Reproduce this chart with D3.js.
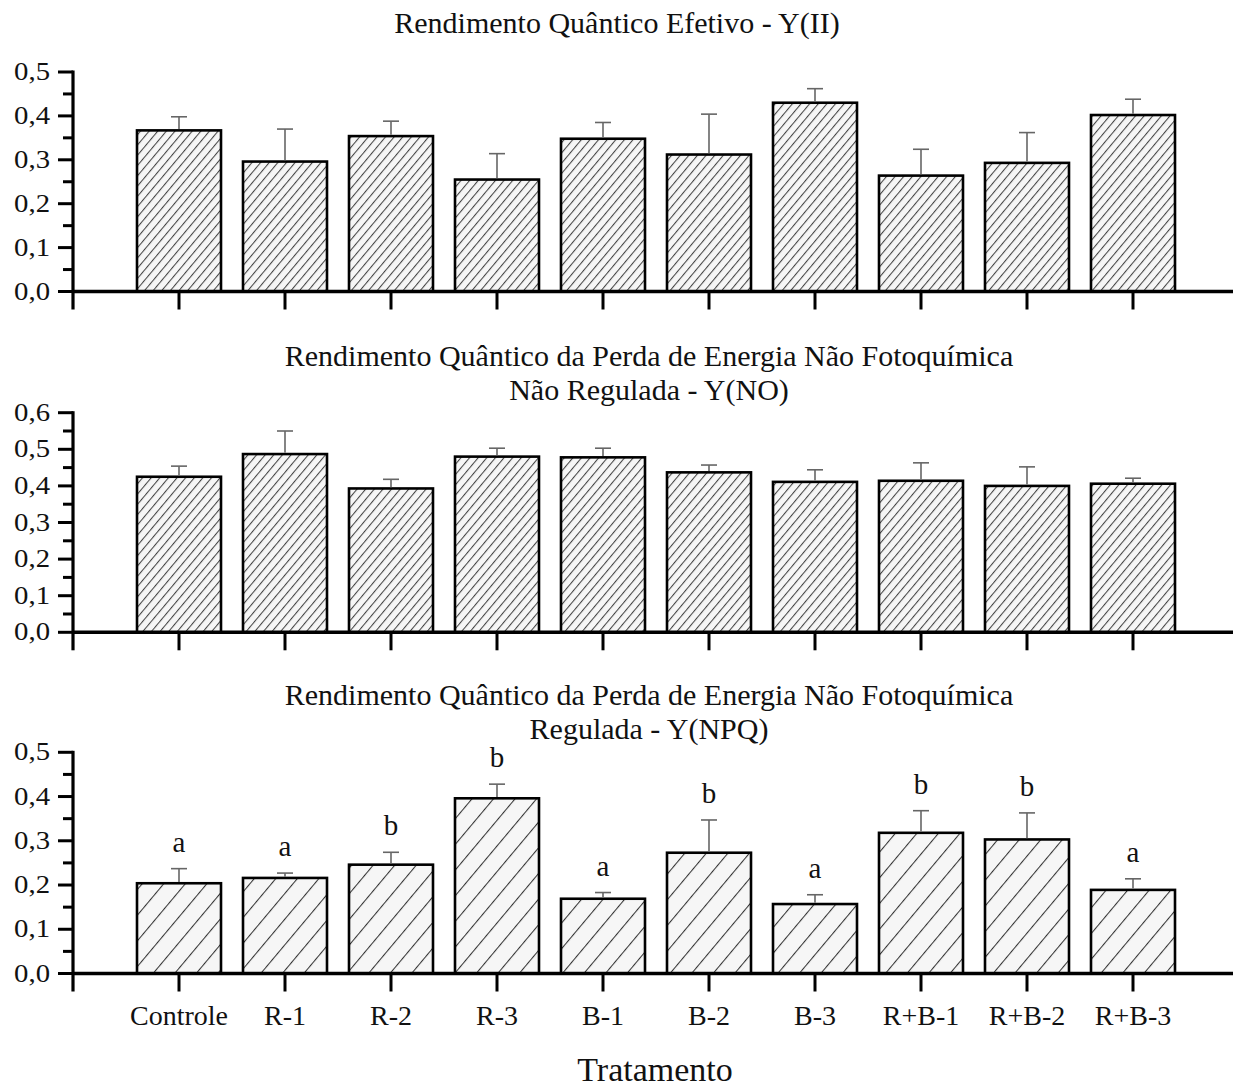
<!DOCTYPE html>
<html>
<head>
<meta charset="utf-8">
<script src="https://cdn.jsdelivr.net/npm/d3@7"></script>
<style>
  body { margin: 0; background: #fff; }
  text { font-family: "Liberation Serif", "Times New Roman", serif; fill: #111; }
</style>
</head>
<body>
<div id="chart"></div>
<script>
var width = 1233;
var height = 1091;

// treatments on the x axis
var categories = ["Controle", "R-1", "R-2", "R-3", "B-1", "B-2", "B-3", "R+B-1", "R+B-2", "R+B-3"];

// Y(II) means and error (upper bar only)
var yiiMean = [0.367, 0.296, 0.354, 0.255, 0.348, 0.312, 0.430, 0.264, 0.293, 0.402];
var yiiErr  = [0.031, 0.074, 0.034, 0.059, 0.037, 0.092, 0.032, 0.060, 0.069, 0.036];

// Y(NO)
var ynoMean = [0.425, 0.487, 0.393, 0.480, 0.478, 0.437, 0.411, 0.414, 0.400, 0.406];
var ynoErr  = [0.029, 0.063, 0.025, 0.023, 0.025, 0.020, 0.033, 0.049, 0.052, 0.015];

// Y(NPQ) + letters of the mean comparison test
var ynpqMean = [0.204, 0.216, 0.246, 0.396, 0.169, 0.273, 0.157, 0.318, 0.303, 0.189];
var ynpqErr  = [0.033, 0.011, 0.028, 0.032, 0.014, 0.074, 0.021, 0.050, 0.060, 0.025];
var ynpqLetters = ["a", "a", "b", "b", "a", "b", "a", "b", "b", "a"];

var yiiTicks = [0, 0.1, 0.2, 0.3, 0.4, 0.5];
var ynoTicks = [0, 0.1, 0.2, 0.3, 0.4, 0.5, 0.6];
var ynpqTicks = [0, 0.1, 0.2, 0.3, 0.4, 0.5];

var titles = [
  ["Rendimento Quântico Efetivo - Y(II)"],
  ["Rendimento Quântico da Perda de Energia Não Fotoquímica", "Não Regulada - Y(NO)"],
  ["Rendimento Quântico da Perda de Energia Não Fotoquímica", "Regulada - Y(NPQ)"]
];

var panels = [
  {mean: yiiMean, err: yiiErr, ticks: yiiTicks, max: 0.5, top: 72, bottom: 291.5, title: titles[0], titleX: 617, titleY: 33, hatch: "dense"},
  {mean: ynoMean, err: ynoErr, ticks: ynoTicks, max: 0.6, top: 412.7, bottom: 632.3, title: titles[1], titleX: 649, titleY: 366, hatch: "dense"},
  {mean: ynpqMean, err: ynpqErr, ticks: ynpqTicks, max: 0.5, top: 752.3, bottom: 973.5, title: titles[2], titleX: 649, titleY: 705, hatch: "sparse", letters: ynpqLetters}
];

var svg = d3.select("#chart").append("svg")
  .attr("width", width)
  .attr("height", height);

// hatch patterns
var defs = svg.append("defs");
function hatch(id, spacing, color) {
  var p = defs.append("pattern")
    .attr("id", id)
    .attr("patternUnits", "userSpaceOnUse")
    .attr("width", spacing)
    .attr("height", spacing)
    .attr("patternTransform", "rotate(40)");
  p.append("rect").attr("width", spacing).attr("height", spacing).attr("fill", "#f6f6f6");
  p.append("line")
    .attr("x1", 0.5).attr("y1", 0)
    .attr("x2", 0.5).attr("y2", spacing)
    .attr("stroke", color)
    .attr("stroke-width", 1.1);
}
hatch("dense", 6.6, "#444");
hatch("sparse", 16.5, "#333");

// x positions: the axis starts one slot left of "Controle"
var x = d3.scaleLinear().domain([0, 11]).range([73, 73 + 11 * 106]);
var barW = 84;

panels.forEach(function(pn) {
  var y = d3.scaleLinear().domain([0, pn.max]).range([pn.bottom, pn.top]);
  var g = svg.append("g");

  // title
  pn.title.forEach(function(t, i) {
    g.append("text")
      .attr("x", pn.titleX)
      .attr("y", pn.titleY + i * 34)
      .attr("text-anchor", "middle")
      .style("font-size", "30px")
      .text(t);
  });

  // bars
  g.selectAll("rect.bar")
    .data(pn.mean)
    .enter()
    .append("rect")
    .attr("class", "bar")
    .attr("x", function(d, i) { return x(i + 1) - barW / 2; })
    .attr("y", function(d) { return y(d); })
    .attr("width", barW)
    .attr("height", function(d) { return y(0) - y(d); })
    .attr("fill", "url(#" + pn.hatch + ")")
    .attr("stroke", "#000")
    .attr("stroke-width", 2.6);

  // error bars (upper half only)
  var eb = g.selectAll("g.err")
    .data(pn.mean)
    .enter()
    .append("g")
    .attr("class", "err")
    .attr("stroke", "#666")
    .attr("stroke-width", 1.6);
  eb.append("line")
    .attr("x1", function(d, i) { return x(i + 1); })
    .attr("x2", function(d, i) { return x(i + 1); })
    .attr("y1", function(d) { return y(d) - 1.3; })
    .attr("y2", function(d, i) { return y(d + pn.err[i]); });
  eb.append("line")
    .attr("x1", function(d, i) { return x(i + 1) - 8; })
    .attr("x2", function(d, i) { return x(i + 1) + 8; })
    .attr("y1", function(d, i) { return y(d + pn.err[i]); })
    .attr("y2", function(d, i) { return y(d + pn.err[i]); });

  // letters
  if (pn.letters) {
    g.selectAll("text.letter")
      .data(pn.letters)
      .enter()
      .append("text")
      .attr("class", "letter")
      .attr("x", function(d, i) { return x(i + 1); })
      .attr("y", function(d, i) { return y(pn.mean[i] + pn.err[i]) - 17; })
      .attr("text-anchor", "middle")
      .style("font-size", "29px")
      .text(function(d) { return d; });
  }

  // y axis: major + minor ticks drawn outward
  var minor = d3.range(0, pn.max + 0.001, 0.05);
  g.selectAll("line.ytick")
    .data(minor)
    .enter()
    .append("line")
    .attr("x1", function(d, i) { return i % 2 == 0 ? 58 : 63; })
    .attr("x2", 73)
    .attr("y1", function(d) { return y(d); })
    .attr("y2", function(d) { return y(d); })
    .attr("stroke", "#000")
    .attr("stroke-width", 3);

  g.selectAll("text.ylab")
    .data(pn.ticks)
    .enter()
    .append("text")
    .attr("class", "ylab")
    .attr("text-anchor", "end")
    .attr("transform", function(d) { return "translate(50," + (y(d) + 8) + ") scale(1.15,1)"; })
    .style("font-size", "25px")
    .text(function(d) { return d3.format(".1f")(d).replace(".", ","); });

  g.append("line")
    .attr("x1", 73).attr("x2", 73)
    .attr("y1", y(pn.max) - 1.5).attr("y2", y(0) + 18)
    .attr("stroke", "#000").attr("stroke-width", 3.2);

  // x axis
  g.append("line")
    .attr("x1", 73).attr("x2", width)
    .attr("y1", y(0)).attr("y2", y(0))
    .attr("stroke", "#000").attr("stroke-width", 3.4);

  g.selectAll("line.xtick")
    .data(d3.range(1, 11))
    .enter()
    .append("line")
    .attr("x1", function(d) { return x(d); })
    .attr("x2", function(d) { return x(d); })
    .attr("y1", y(0))
    .attr("y2", y(0) + 18)
    .attr("stroke", "#000")
    .attr("stroke-width", 3);
});

// category labels under the last panel
svg.selectAll("text.xlab")
  .data(categories)
  .enter()
  .append("text")
  .attr("class", "xlab")
  .attr("x", function(d, i) { return x(i + 1); })
  .attr("y", 1025)
  .attr("text-anchor", "middle")
  .style("font-size", "28px")
  .text(function(d) { return d; });

svg.append("text")
  .attr("x", 655)
  .attr("y", 1081)
  .attr("text-anchor", "middle")
  .style("font-size", "34px")
  .text("Tratamento");
</script>
</body>
</html>
